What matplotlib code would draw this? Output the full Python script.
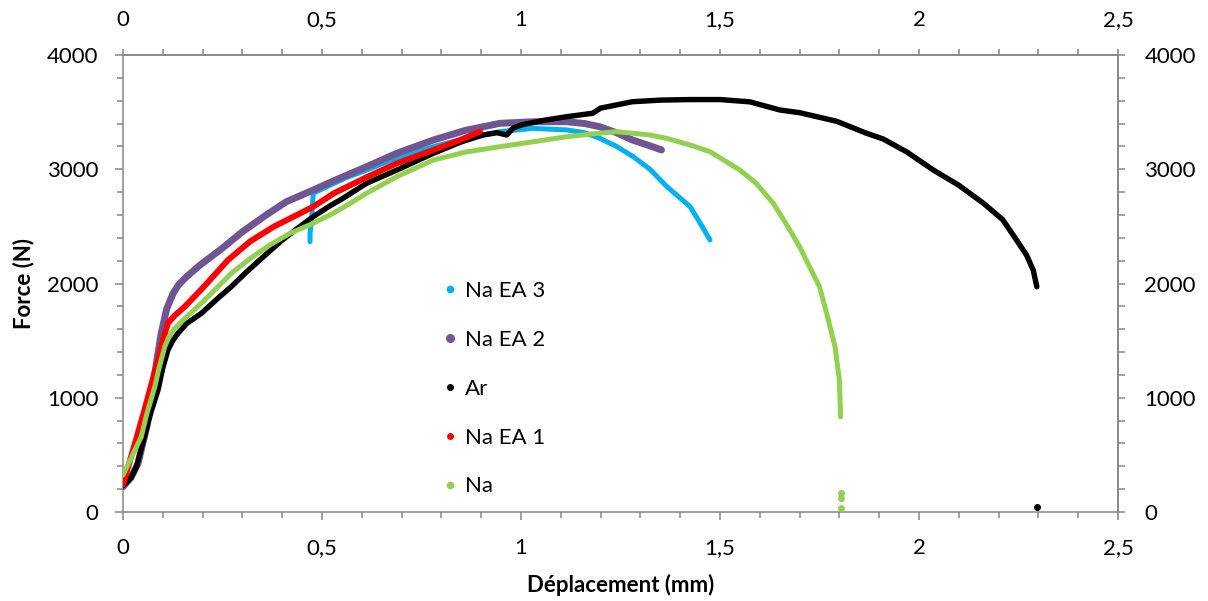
import numpy as np
import matplotlib
matplotlib.use("Agg")
import matplotlib.pyplot as plt
from matplotlib.lines import Line2D
from matplotlib.ticker import FixedLocator, FuncFormatter

plt.rcParams['font.family'] = ['Lato', 'DejaVu Sans']

# Na EA 3 (cyan)
na_ea3_x = [0.47, 0.47, 0.472, 0.475, 0.478, 0.52, 0.56, 0.612, 0.688, 0.78, 0.86, 0.947,
            1.03, 1.115, 1.16, 1.198, 1.24, 1.282, 1.324, 1.366, 1.425, 1.45, 1.475]
na_ea3_f = [2366, 2442, 2497, 2617, 2790, 2860, 2925, 2993, 3100, 3198, 3270, 3329,
            3358, 3344, 3320, 3271, 3200, 3110, 3000, 2850, 2672, 2530, 2381]

# Na EA 2 (purple)
na_ea2_x = [0, 0.02, 0.038, 0.06, 0.08, 0.096, 0.11, 0.126, 0.14, 0.16, 0.193, 0.25, 0.30,
            0.36, 0.41, 0.478, 0.53, 0.612, 0.688, 0.78, 0.86, 0.947, 1.03, 1.115, 1.16,
            1.198, 1.24, 1.28, 1.32, 1.353]
na_ea2_f = [221, 300, 428, 750, 1214, 1564, 1780, 1914, 1990, 2060, 2160, 2310, 2453,
            2600, 2715, 2818, 2900, 3022, 3140, 3256, 3340, 3402, 3416, 3416, 3400,
            3372, 3320, 3256, 3210, 3169]

# Ar (black)
ar_x = [0, 0.02, 0.034, 0.054, 0.07, 0.088, 0.1, 0.113, 0.125, 0.138, 0.16, 0.197, 0.235,
        0.272, 0.31, 0.353, 0.40, 0.445, 0.478, 0.52, 0.55, 0.612, 0.688, 0.78, 0.85,
        0.905, 0.94, 0.964, 0.98, 1.0, 1.06, 1.115, 1.18, 1.2, 1.28, 1.35, 1.425, 1.50,
        1.575, 1.65, 1.70, 1.793, 1.868, 1.91, 1.97, 2.036, 2.10, 2.162, 2.21, 2.245,
        2.27, 2.287, 2.296]
ar_f = [230, 300, 397, 659, 870, 1068, 1260, 1418, 1500, 1564, 1650, 1739, 1860,
        1972, 2100, 2235, 2380, 2500, 2585, 2680, 2740, 2877, 2993, 3140, 3240,
        3300, 3320, 3300, 3360, 3387, 3430, 3460, 3490, 3535, 3591, 3605, 3610, 3610,
        3590, 3519, 3495, 3420, 3315, 3265, 3150, 2993, 2860, 2702, 2560, 2381,
        2250, 2118, 1972]
ar_tail_x = [2.296]
ar_tail_f = [46]

# Na EA 1 (red)
na_ea1_x = [0, 0.013, 0.03, 0.054, 0.07, 0.088, 0.1, 0.113, 0.13, 0.155, 0.2, 0.264,
            0.32, 0.38, 0.478, 0.53, 0.612, 0.688, 0.78, 0.85, 0.897]
na_ea1_f = [240, 397, 600, 893, 1100, 1330, 1500, 1654, 1720, 1797, 1960, 2206,
            2370, 2500, 2672, 2790, 2930, 3052, 3169, 3260, 3329]

# Na (green)
na_x = [0, 0.02, 0.046, 0.06, 0.08, 0.09, 0.105, 0.115, 0.13, 0.16, 0.197, 0.235, 0.272,
        0.32, 0.37, 0.42, 0.478, 0.528, 0.57, 0.612, 0.688, 0.78, 0.86, 0.947, 1.03,
        1.115, 1.18, 1.24, 1.324, 1.366, 1.425, 1.475, 1.55, 1.59, 1.634, 1.67, 1.70,
        1.75, 1.768, 1.789, 1.80, 1.803]
na_f = [324, 470, 659, 860, 1097, 1250, 1447, 1530, 1608, 1710, 1827, 1960, 2089,
        2220, 2340, 2440, 2527, 2614, 2700, 2790, 2935, 3081, 3150, 3198, 3240,
        3285, 3310, 3329, 3300, 3270, 3212, 3154, 2993, 2880, 2702, 2500, 2322,
        1972, 1739, 1447, 1155, 834]
na_tail_x = [1.803, 1.803, 1.805]
na_tail_f = [164, 120, 32]

labels = ['Na EA 3', 'Na EA 2', 'Ar', 'Na EA 1', 'Na']
colors = ['#00B0F0', '#6F5592', '#000000', '#FF0000', '#92D050']

x_major = [0, 0.5, 1, 1.5, 2, 2.5]
x_minor = [v / 10 for v in range(26)]
y_major = [0, 1000, 2000, 3000, 4000]
y_minor = list(range(0, 4001, 200))

fig = plt.figure(figsize=(12.08, 6.01), dpi=100)
ax = fig.add_axes([0.1018, 0.148, 0.8237, 0.7605])

series = [
    (na_ea3_x, na_ea3_f, 3.6),
    (na_ea2_x, na_ea2_f, 5.0),
    (ar_x, ar_f, 3.9),
    (na_ea1_x, na_ea1_f, 4.3),
    (na_x, na_f, 3.6),
]
for i, (xs, fs, lw) in enumerate(series):
    ax.plot(xs, fs, color=colors[i], lw=lw, solid_capstyle='round',
            solid_joinstyle='round', zorder=2 + i)

ax.plot(ar_tail_x, ar_tail_f, 'o', color=colors[2], ms=4, zorder=4)
ax.plot(na_tail_x, na_tail_f, 'o', color=colors[4], ms=4, zorder=6)

ax.set_xlim(0, 2.5)
ax.set_ylim(0, 4000)

fmt = FuncFormatter(lambda v, p: f"{v:g}".replace('.', ','))
grey = '#868686'

ax.xaxis.set_major_locator(FixedLocator(x_major))
ax.xaxis.set_minor_locator(FixedLocator(x_minor))
ax.yaxis.set_major_locator(FixedLocator(y_major))
ax.yaxis.set_minor_locator(FixedLocator(y_minor))
ax.xaxis.set_major_formatter(fmt)

for s in ax.spines.values():
    s.set_color(grey)
    s.set_linewidth(1.1)

ax.tick_params(axis='both', which='both', direction='out', color=grey, width=1.1,
               labelsize=16)
ax.tick_params(axis='x', which='major', length=5.5, pad=13.5)
ax.tick_params(axis='x', which='minor', length=4)
ax.tick_params(axis='y', which='major', length=5.5, pad=12)
ax.tick_params(axis='y', which='minor', length=4)

secx = ax.secondary_xaxis('top')
secx.xaxis.set_major_locator(FixedLocator(x_major))
secx.xaxis.set_minor_locator(FixedLocator(x_minor))
secx.xaxis.set_major_formatter(fmt)
secx.spines['top'].set_color(grey)
secx.spines['top'].set_linewidth(1.1)
secx.tick_params(axis='x', which='both', direction='out', color=grey, width=1.1,
                 labelsize=16, length=4, pad=14)

secy = ax.secondary_yaxis('right')
secy.yaxis.set_major_locator(FixedLocator(y_major))
secy.yaxis.set_minor_locator(FixedLocator(y_minor))
secy.spines['right'].set_color(grey)
secy.spines['right'].set_linewidth(1.1)
secy.tick_params(axis='y', which='both', direction='out', color=grey, width=1.1,
                 labelsize=16, length=5, pad=14)

ax.set_xlabel('Déplacement (mm)', fontsize=16, fontweight='bold')
ax.set_ylabel('Force (N)', fontsize=16, fontweight='bold')
ax.xaxis.set_label_coords(0.5, -0.135)
ax.yaxis.set_label_coords(-0.089, 0.5)

msizes = [4.5, 5.5, 4, 4, 4.5]
handles = [Line2D([], [], marker='o', linestyle='None', color=c, ms=m)
           for c, m in zip(colors, msizes)]
ax.legend(handles, labels, loc='center left', bbox_to_anchor=(0.3216, 0.270),
          frameon=False, fontsize=16, labelspacing=1.3, handlelength=0.6,
          handletextpad=0.4, borderpad=0, borderaxespad=0)

fig.savefig('out.png', dpi=100)
